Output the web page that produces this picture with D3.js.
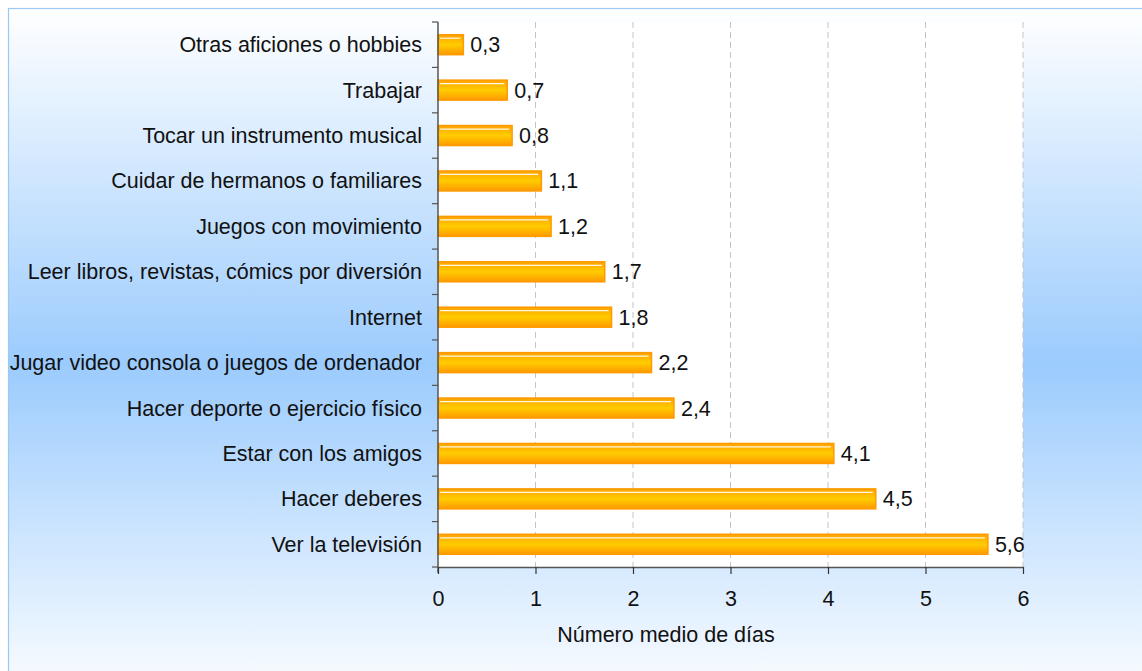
<!DOCTYPE html>
<html>
<head>
<meta charset="utf-8">
<script src="https://cdn.jsdelivr.net/npm/d3@7"></script>
<style>
  html, body { margin: 0; padding: 0; background: #fff; }
  svg { display: block; font-family: "Liberation Sans", Arial, sans-serif; }
</style>
</head>
<body>
<svg id="canvas" width="1142" height="671"></svg>
<script>
// activities, top to bottom
const categories = [
  'Otras aficiones o hobbies',
  'Trabajar',
  'Tocar un instrumento musical',
  'Cuidar de hermanos o familiares',
  'Juegos con movimiento',
  'Leer libros, revistas, cómics por diversión',
  'Internet',
  'Jugar video consola o juegos de ordenador',
  'Hacer deporte o ejercicio físico',
  'Estar con los amigos',
  'Hacer deberes',
  'Ver la televisión'
]
const values = [0.26, 0.71, 0.76, 1.06, 1.16, 1.71, 1.78, 2.19, 2.42, 4.06, 4.49, 5.64]
const xTicks = [0, 1, 2, 3, 4, 5, 6]
const xTitle = 'Número medio de días'

const svg = d3.select('#canvas')
const W = 1142, H = 671
const m = { left: 438, right: 1023, top: 22, bottom: 567 }
const fs = 21.5

const defs = svg.append('defs')
let bg = defs.append('linearGradient').attr('id', 'bg')
  .attr('x1', 0).attr('y1', 0).attr('x2', 0).attr('y2', 1)
bg.append('stop').attr('offset', '0%').attr('stop-color', '#ffffff')
bg.append('stop').attr('offset', '53%').attr('stop-color', '#9bcbfd')
bg.append('stop').attr('offset', '100%').attr('stop-color', '#f7fbff')

let barGrad = defs.append('linearGradient').attr('id', 'bar')
  .attr('x1', 0).attr('y1', 0).attr('x2', 0).attr('y2', 1)
barGrad.append('stop').attr('offset', '0%').attr('stop-color', '#ffa200')
barGrad.append('stop').attr('offset', '50%').attr('stop-color', '#ffcc00')
barGrad.append('stop').attr('offset', '100%').attr('stop-color', '#ff9900')

// background panel with light blue border
svg.append('rect').attr('x', 8.5).attr('y', 8.5).attr('width', W).attr('height', H)
  .attr('fill', 'url(#bg)').attr('stroke', '#99c9f5').attr('stroke-width', 1.2)

let x = d3.scaleLinear().domain([0, 6]).range([m.left, m.right])
let y = d3.scaleBand().domain(categories).range([m.top, m.bottom]).paddingInner(0.56).paddingOuter(0.28)
let yb = d3.scaleBand().domain(categories).range([m.top, m.bottom])

// plot area
svg.append('rect').attr('x', m.left).attr('y', m.top)
  .attr('width', m.right - m.left).attr('height', m.bottom - m.top).attr('fill', '#fff')

// grid
svg.append('g').selectAll('line').data(xTicks.slice(1)).enter().append('line')
  .attr('x1', d => x(d)).attr('x2', d => x(d))
  .attr('y1', m.top).attr('y2', m.bottom)
  .attr('stroke', '#c4c4c4').attr('stroke-dasharray', '6,4')

// bars
let bars = svg.append('g').selectAll('g').data(categories).enter().append('g')
bars.append('rect')
  .attr('x', x(0)).attr('y', d => y(d))
  .attr('width', (d, i) => x(values[i]) - x(0)).attr('height', y.bandwidth())
  .attr('fill', 'url(#bar)').attr('stroke', '#ff9a00').attr('stroke-width', 1.5)
bars.append('line')
  .attr('x1', x(0) + 2).attr('x2', (d, i) => x(values[i]) - 3)
  .attr('y1', d => y(d) + 3.5).attr('y2', d => y(d) + 3.5)
  .attr('stroke', '#fff').attr('stroke-width', 1.2).attr('opacity', 0.9)

// value labels
bars.append('text')
  .attr('x', (d, i) => x(values[i]) + 7)
  .attr('y', d => y(d) + y.bandwidth() / 2)
  .attr('dy', '0.35em').attr('font-size', fs).attr('fill', '#111')
  .text((d, i) => values[i].toFixed(1).replace('.', ','))

// y axis
let yAxis = svg.append('g')
yAxis.append('line').attr('x1', m.left).attr('x2', m.left).attr('y1', m.top).attr('y2', m.bottom + 6)
  .attr('stroke', '#555').attr('stroke-width', 1.5)
yAxis.selectAll('.tk').data(categories).enter().append('line')
  .attr('x1', m.left - 6).attr('x2', m.left)
  .attr('y1', d => yb(d)).attr('y2', d => yb(d))
  .attr('stroke', '#555').attr('stroke-width', 1.2)
yAxis.append('line').attr('x1', m.left - 6).attr('x2', m.left)
  .attr('y1', m.bottom).attr('y2', m.bottom).attr('stroke', '#555').attr('stroke-width', 1.2)
yAxis.selectAll('text').data(categories).enter().append('text')
  .attr('x', m.left - 16).attr('y', d => yb(d) + yb.bandwidth() / 2)
  .attr('dy', '0.35em').attr('text-anchor', 'end').attr('font-size', fs).attr('fill', '#111')
  .text(d => d)

// x axis
let xAxis = svg.append('g').attr('transform', `translate(0,${m.bottom})`)
  .call(d3.axisBottom(x).tickValues(xTicks).tickFormat(d3.format('d'))
    .tickSize(7).tickPadding(17).tickSizeOuter(0))
xAxis.select('.domain').attr('stroke', '#555').attr('stroke-width', 1.5)
xAxis.selectAll('.tick line').attr('stroke', '#333').attr('stroke-width', 1.2)
xAxis.selectAll('.tick text').attr('font-size', fs).attr('fill', '#111')
  .attr('font-family', '"Liberation Sans", Arial, sans-serif')

svg.append('text').attr('x', 666).attr('y', 642)
  .attr('text-anchor', 'middle').attr('font-size', fs).attr('fill', '#111')
  .text(xTitle)
</script>
</body>
</html>
